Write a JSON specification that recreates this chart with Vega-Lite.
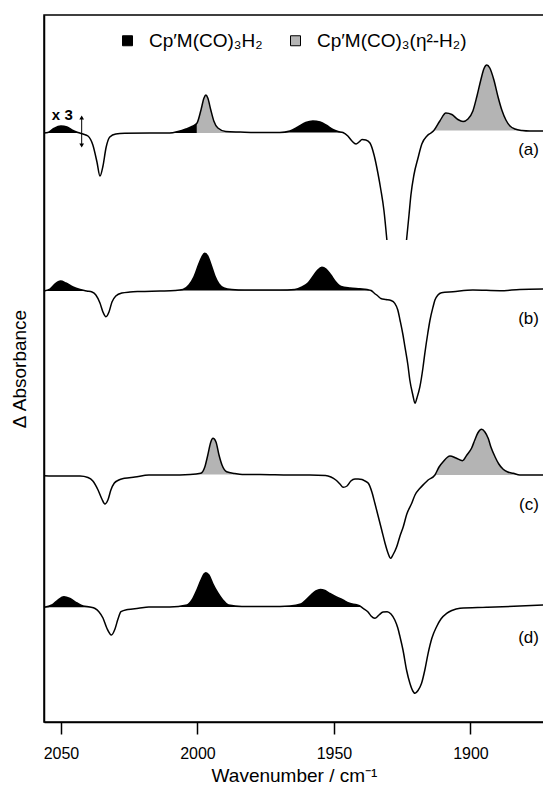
{
  "$schema": "https://vega.github.io/schema/vega-lite/v6.json",
  "width": 500,
  "height": 707,
  "autosize": {"type": "none"},
  "padding": {"left": 44, "top": 15, "right": 0, "bottom": 64},
  "background": "white",
  "config": {
    "font": "Liberation Sans",
    "view": {"stroke": "black", "strokeWidth": 1.5},
    "axis": {"grid": false, "domainColor": "black", "domainWidth": 1.5, "tickColor": "black", "labelColor": "black", "titleColor": "black", "titleFontWeight": "normal"}
  },
  "datasets": {
    "lines": [
      {"part":"a1","wn":2056.2,"A":589},{"part":"a1","wn":2054.8,"A":589.5},{"part":"a1","wn":2052.6,"A":593.5},{"part":"a1","wn":2050.0,"A":596},{"part":"a1","wn":2047.8,"A":595},{"part":"a1","wn":2045.6,"A":591.5},{"part":"a1","wn":2043.8,"A":589.5},{"part":"a1","wn":2041.9,"A":588},{"part":"a1","wn":2040.1,"A":586},{"part":"a1","wn":2038.3,"A":577},{"part":"a1","wn":2036.8,"A":560},{"part":"a1","wn":2035.7,"A":546},{"part":"a1","wn":2034.6,"A":556},{"part":"a1","wn":2033.5,"A":574},{"part":"a1","wn":2032.1,"A":585},{"part":"a1","wn":2029.9,"A":588},{"part":"a1","wn":2026.6,"A":588.7},{"part":"a1","wn":2017.4,"A":589},{"part":"a1","wn":2010.1,"A":589},{"part":"a1","wn":2007.1,"A":590.5},{"part":"a1","wn":2004.2,"A":593},{"part":"a1","wn":2002.0,"A":595.5},{"part":"a1","wn":2000.2,"A":598.7},{"part":"a1","wn":1998.7,"A":612},{"part":"a1","wn":1997.6,"A":624},{"part":"a1","wn":1996.9,"A":627},{"part":"a1","wn":1996.2,"A":624},{"part":"a1","wn":1995.1,"A":612},{"part":"a1","wn":1994.0,"A":601},{"part":"a1","wn":1992.5,"A":594},{"part":"a1","wn":1989.6,"A":590.5},{"part":"a1","wn":1984.4,"A":590},{"part":"a1","wn":1977.1,"A":589.5},{"part":"a1","wn":1969.8,"A":589.5},{"part":"a1","wn":1966.1,"A":591},{"part":"a1","wn":1963.2,"A":595},{"part":"a1","wn":1960.3,"A":599.5},{"part":"a1","wn":1957.7,"A":601},{"part":"a1","wn":1955.1,"A":600},{"part":"a1","wn":1952.6,"A":596.5},{"part":"a1","wn":1950.4,"A":592.5},{"part":"a1","wn":1948.5,"A":590.5},{"part":"a1","wn":1946.7,"A":589.5},{"part":"a1","wn":1944.9,"A":586},{"part":"a1","wn":1943.4,"A":581},{"part":"a1","wn":1941.9,"A":578},{"part":"a1","wn":1940.8,"A":580},{"part":"a1","wn":1939.7,"A":582.5},{"part":"a1","wn":1938.3,"A":582},{"part":"a1","wn":1936.8,"A":579},{"part":"a1","wn":1935.3,"A":567},{"part":"a1","wn":1933.9,"A":549},{"part":"a1","wn":1932.8,"A":532},{"part":"a1","wn":1931.7,"A":512},{"part":"a1","wn":1930.6,"A":482},
      {"part":"a2","wn":1923.4,"A":482},{"part":"a2","wn":1922.5,"A":507},{"part":"a2","wn":1921.8,"A":527},{"part":"a2","wn":1920.7,"A":547},{"part":"a2","wn":1919.2,"A":564},{"part":"a2","wn":1917.8,"A":578},{"part":"a2","wn":1915.9,"A":586},{"part":"a2","wn":1914.5,"A":589},{"part":"a2","wn":1913.4,"A":591.5},{"part":"a2","wn":1911.2,"A":601},{"part":"a2","wn":1909.0,"A":609},{"part":"a2","wn":1906.8,"A":607.5},{"part":"a2","wn":1904.6,"A":602.5},{"part":"a2","wn":1902.7,"A":600.5},{"part":"a2","wn":1900.9,"A":603},{"part":"a2","wn":1899.1,"A":611},{"part":"a2","wn":1897.6,"A":626},{"part":"a2","wn":1896.2,"A":642},{"part":"a2","wn":1895.1,"A":653},{"part":"a2","wn":1894.0,"A":657},{"part":"a2","wn":1892.9,"A":654},{"part":"a2","wn":1891.4,"A":642},{"part":"a2","wn":1889.9,"A":625.3},{"part":"a2","wn":1888.5,"A":612},{"part":"a2","wn":1887.0,"A":602},{"part":"a2","wn":1885.5,"A":596},{"part":"a2","wn":1883.7,"A":593},{"part":"a2","wn":1881.1,"A":591.5},{"part":"a2","wn":1878.2,"A":591},{"part":"a2","wn":1873.1,"A":591},
      {"part":"b","wn":2056.2,"A":431},{"part":"b","wn":2054.0,"A":433},{"part":"b","wn":2052.2,"A":438},{"part":"b","wn":2050.1,"A":441},{"part":"b","wn":2048.2,"A":439},{"part":"b","wn":2045.6,"A":435},{"part":"b","wn":2043.0,"A":432.5},{"part":"b","wn":2040.5,"A":431},{"part":"b","wn":2038.6,"A":430},{"part":"b","wn":2037.2,"A":427},{"part":"b","wn":2035.7,"A":419},{"part":"b","wn":2034.6,"A":410},{"part":"b","wn":2033.5,"A":405.3},{"part":"b","wn":2032.4,"A":410},{"part":"b","wn":2031.3,"A":420},{"part":"b","wn":2029.9,"A":426},{"part":"b","wn":2027.7,"A":429},{"part":"b","wn":2024.7,"A":430},{"part":"b","wn":2021.1,"A":430.5},{"part":"b","wn":2013.7,"A":431},{"part":"b","wn":2008.2,"A":431.5},{"part":"b","wn":2005.3,"A":432.5},{"part":"b","wn":2003.1,"A":437},{"part":"b","wn":2001.3,"A":445},{"part":"b","wn":1999.5,"A":458},{"part":"b","wn":1998.4,"A":465},{"part":"b","wn":1997.3,"A":468.7},{"part":"b","wn":1996.2,"A":466},{"part":"b","wn":1995.1,"A":458},{"part":"b","wn":1993.6,"A":446},{"part":"b","wn":1992.1,"A":438},{"part":"b","wn":1990.3,"A":434},{"part":"b","wn":1987.4,"A":432.5},{"part":"b","wn":1982.6,"A":432},{"part":"b","wn":1977.1,"A":432},{"part":"b","wn":1969.8,"A":432},{"part":"b","wn":1964.3,"A":432.5},{"part":"b","wn":1961.7,"A":435},{"part":"b","wn":1959.5,"A":439},{"part":"b","wn":1957.3,"A":447},{"part":"b","wn":1955.9,"A":452},{"part":"b","wn":1954.4,"A":454.7},{"part":"b","wn":1952.9,"A":453},{"part":"b","wn":1951.1,"A":447},{"part":"b","wn":1949.3,"A":440},{"part":"b","wn":1947.4,"A":435.5},{"part":"b","wn":1944.1,"A":434},{"part":"b","wn":1940.5,"A":433.2},{"part":"b","wn":1937.9,"A":432.5},{"part":"b","wn":1936.4,"A":431.5},{"part":"b","wn":1935.3,"A":429},{"part":"b","wn":1933.9,"A":426},{"part":"b","wn":1932.8,"A":423.5},{"part":"b","wn":1931.0,"A":422.5},{"part":"b","wn":1929.1,"A":421.5},{"part":"b","wn":1927.7,"A":418.7},{"part":"b","wn":1926.6,"A":412},{"part":"b","wn":1925.8,"A":402},{"part":"b","wn":1924.7,"A":387},{"part":"b","wn":1924.0,"A":375.3},{"part":"b","wn":1922.9,"A":357},{"part":"b","wn":1922.2,"A":342},{"part":"b","wn":1921.1,"A":327},{"part":"b","wn":1920.3,"A":318.7},{"part":"b","wn":1919.6,"A":324},{"part":"b","wn":1918.5,"A":335.3},{"part":"b","wn":1917.4,"A":354},{"part":"b","wn":1916.7,"A":368.7},{"part":"b","wn":1915.6,"A":389},{"part":"b","wn":1914.8,"A":402},{"part":"b","wn":1913.7,"A":415},{"part":"b","wn":1913.0,"A":422},{"part":"b","wn":1911.9,"A":427},{"part":"b","wn":1910.6,"A":429.3},{"part":"b","wn":1906.4,"A":430.3},{"part":"b","wn":1899.1,"A":432},{"part":"b","wn":1889.2,"A":431.3},{"part":"b","wn":1881.9,"A":432.5},{"part":"b","wn":1873.1,"A":433},
      {"part":"c","wn":2056.2,"A":246.3},{"part":"c","wn":2050.4,"A":246},{"part":"c","wn":2043.0,"A":246},{"part":"c","wn":2040.1,"A":244.5},{"part":"c","wn":2038.3,"A":241},{"part":"c","wn":2036.4,"A":232},{"part":"c","wn":2035.0,"A":223},{"part":"c","wn":2033.9,"A":218},{"part":"c","wn":2032.8,"A":222},{"part":"c","wn":2031.7,"A":232},{"part":"c","wn":2030.5,"A":238.7},{"part":"c","wn":2028.8,"A":242},{"part":"c","wn":2026.7,"A":243.7},{"part":"c","wn":2022.9,"A":245},{"part":"c","wn":2017.8,"A":247},{"part":"c","wn":2010.1,"A":247},{"part":"c","wn":2002.7,"A":247.5},{"part":"c","wn":1998.8,"A":248.7},{"part":"c","wn":1997.3,"A":255},{"part":"c","wn":1996.2,"A":267},{"part":"c","wn":1995.1,"A":280},{"part":"c","wn":1994.3,"A":283.7},{"part":"c","wn":1993.2,"A":280},{"part":"c","wn":1992.1,"A":267},{"part":"c","wn":1991.0,"A":257},{"part":"c","wn":1989.3,"A":250.3},{"part":"c","wn":1986.3,"A":248.5},{"part":"c","wn":1983.6,"A":247.5},{"part":"c","wn":1977.1,"A":247.5},{"part":"c","wn":1966.1,"A":247},{"part":"c","wn":1958.8,"A":247},{"part":"c","wn":1953.1,"A":246.5},{"part":"c","wn":1951.1,"A":245},{"part":"c","wn":1949.3,"A":242},{"part":"c","wn":1947.8,"A":238},{"part":"c","wn":1946.6,"A":234.7},{"part":"c","wn":1945.2,"A":236},{"part":"c","wn":1943.8,"A":241},{"part":"c","wn":1942.3,"A":243},{"part":"c","wn":1941.1,"A":243},{"part":"c","wn":1939.7,"A":242.5},{"part":"c","wn":1938.6,"A":241},{"part":"c","wn":1937.4,"A":238.7},{"part":"c","wn":1936.1,"A":230},{"part":"c","wn":1935.0,"A":218.7},{"part":"c","wn":1933.9,"A":207},{"part":"c","wn":1932.5,"A":192},{"part":"c","wn":1931.3,"A":179},{"part":"c","wn":1930.2,"A":169},{"part":"c","wn":1929.2,"A":163.7},{"part":"c","wn":1928.4,"A":167},{"part":"c","wn":1927.0,"A":175.3},{"part":"c","wn":1925.8,"A":186},{"part":"c","wn":1924.6,"A":195.3},{"part":"c","wn":1923.3,"A":208},{"part":"c","wn":1921.5,"A":218.7},{"part":"c","wn":1920.3,"A":227},{"part":"c","wn":1918.5,"A":233.7},{"part":"c","wn":1917.0,"A":238},{"part":"c","wn":1915.5,"A":242},{"part":"c","wn":1913.0,"A":247},{"part":"c","wn":1911.5,"A":255},{"part":"c","wn":1910.0,"A":260.3},{"part":"c","wn":1907.5,"A":266},{"part":"c","wn":1905.3,"A":264},{"part":"c","wn":1902.9,"A":261.3},{"part":"c","wn":1901.3,"A":267},{"part":"c","wn":1899.6,"A":273.7},{"part":"c","wn":1898.4,"A":282},{"part":"c","wn":1897.3,"A":289},{"part":"c","wn":1895.9,"A":292.7},{"part":"c","wn":1894.7,"A":290},{"part":"c","wn":1893.5,"A":283.7},{"part":"c","wn":1892.5,"A":275},{"part":"c","wn":1891.0,"A":265.3},{"part":"c","wn":1889.6,"A":258},{"part":"c","wn":1888.0,"A":252.7},{"part":"c","wn":1886.3,"A":250},{"part":"c","wn":1884.3,"A":248.7},{"part":"c","wn":1881.9,"A":247},{"part":"c","wn":1873.1,"A":247},
      {"part":"d","wn":2056.2,"A":114.7},{"part":"d","wn":2053.3,"A":117},{"part":"d","wn":2051.1,"A":122},{"part":"d","wn":2048.9,"A":125.3},{"part":"d","wn":2046.7,"A":123.5},{"part":"d","wn":2044.1,"A":119},{"part":"d","wn":2041.9,"A":116},{"part":"d","wn":2039.4,"A":115},{"part":"d","wn":2037.5,"A":113.5},{"part":"d","wn":2036.1,"A":110.3},{"part":"d","wn":2034.6,"A":104},{"part":"d","wn":2033.2,"A":94},{"part":"d","wn":2031.5,"A":87},{"part":"d","wn":2030.2,"A":93},{"part":"d","wn":2029.1,"A":103},{"part":"d","wn":2028.0,"A":110.3},{"part":"d","wn":2025.5,"A":112.5},{"part":"d","wn":2021.6,"A":113.7},{"part":"d","wn":2017.8,"A":115},{"part":"d","wn":2010.1,"A":115},{"part":"d","wn":2003.8,"A":117},{"part":"d","wn":2002.0,"A":122},{"part":"d","wn":2000.2,"A":132},{"part":"d","wn":1998.7,"A":142},{"part":"d","wn":1997.6,"A":148},{"part":"d","wn":1996.9,"A":149.3},{"part":"d","wn":1995.8,"A":147},{"part":"d","wn":1994.3,"A":138},{"part":"d","wn":1992.5,"A":129},{"part":"d","wn":1990.7,"A":122},{"part":"d","wn":1988.6,"A":117},{"part":"d","wn":1983.7,"A":115.5},{"part":"d","wn":1973.4,"A":115.5},{"part":"d","wn":1966.1,"A":116},{"part":"d","wn":1962.1,"A":118},{"part":"d","wn":1960.3,"A":122},{"part":"d","wn":1958.4,"A":127},{"part":"d","wn":1956.6,"A":131},{"part":"d","wn":1955.0,"A":132.5},{"part":"d","wn":1953.3,"A":131.5},{"part":"d","wn":1951.5,"A":128.5},{"part":"d","wn":1949.3,"A":125.3},{"part":"d","wn":1946.7,"A":122},{"part":"d","wn":1944.3,"A":118.7},{"part":"d","wn":1941.7,"A":117.2},{"part":"d","wn":1940.5,"A":116},{"part":"d","wn":1939.3,"A":113.7},{"part":"d","wn":1937.5,"A":110},{"part":"d","wn":1936.4,"A":106},{"part":"d","wn":1935.0,"A":103.7},{"part":"d","wn":1933.5,"A":107},{"part":"d","wn":1932.0,"A":110},{"part":"d","wn":1930.5,"A":110.3},{"part":"d","wn":1929.1,"A":108},{"part":"d","wn":1927.7,"A":102},{"part":"d","wn":1926.6,"A":94},{"part":"d","wn":1925.8,"A":85.3},{"part":"d","wn":1924.7,"A":72},{"part":"d","wn":1923.4,"A":52},{"part":"d","wn":1922.2,"A":39},{"part":"d","wn":1921.1,"A":31},{"part":"d","wn":1920.3,"A":28.7},{"part":"d","wn":1919.2,"A":31.5},{"part":"d","wn":1917.9,"A":38.7},{"part":"d","wn":1916.7,"A":52},{"part":"d","wn":1915.5,"A":68.7},{"part":"d","wn":1914.1,"A":84},{"part":"d","wn":1912.4,"A":95.3},{"part":"d","wn":1910.8,"A":103},{"part":"d","wn":1908.7,"A":108.7},{"part":"d","wn":1906.8,"A":111.5},{"part":"d","wn":1903.8,"A":113.7},{"part":"d","wn":1894.1,"A":114.7},{"part":"d","wn":1881.9,"A":116},{"part":"d","wn":1873.1,"A":117}
    ],
    "fills": [
      {"seg":"a-b1","species":"Cp′M(CO)₃H₂","wn":2056.2,"A":589,"base":589},{"seg":"a-b1","species":"Cp′M(CO)₃H₂","wn":2054.8,"A":589.5,"base":589},{"seg":"a-b1","species":"Cp′M(CO)₃H₂","wn":2052.6,"A":593.5,"base":589},{"seg":"a-b1","species":"Cp′M(CO)₃H₂","wn":2050.0,"A":596,"base":589},{"seg":"a-b1","species":"Cp′M(CO)₃H₂","wn":2047.8,"A":595,"base":589},{"seg":"a-b1","species":"Cp′M(CO)₃H₂","wn":2045.6,"A":591.5,"base":589},{"seg":"a-b1","species":"Cp′M(CO)₃H₂","wn":2043.8,"A":589.5,"base":589},{"seg":"a-b1","species":"Cp′M(CO)₃H₂","wn":2043.0,"A":589,"base":589},
      {"seg":"a-b2","species":"Cp′M(CO)₃H₂","wn":2010.1,"A":589,"base":589},{"seg":"a-b2","species":"Cp′M(CO)₃H₂","wn":2007.1,"A":590.5,"base":589},{"seg":"a-b2","species":"Cp′M(CO)₃H₂","wn":2004.2,"A":593,"base":589},{"seg":"a-b2","species":"Cp′M(CO)₃H₂","wn":2002.0,"A":595.5,"base":589},{"seg":"a-b2","species":"Cp′M(CO)₃H₂","wn":2000.2,"A":598.7,"base":589},
      {"seg":"a-g1","species":"Cp′M(CO)₃(η²-H₂)","wn":2000.2,"A":598.7,"base":589},{"seg":"a-g1","species":"Cp′M(CO)₃(η²-H₂)","wn":1998.7,"A":612,"base":589},{"seg":"a-g1","species":"Cp′M(CO)₃(η²-H₂)","wn":1997.6,"A":624,"base":589},{"seg":"a-g1","species":"Cp′M(CO)₃(η²-H₂)","wn":1996.9,"A":627,"base":589},{"seg":"a-g1","species":"Cp′M(CO)₃(η²-H₂)","wn":1996.2,"A":624,"base":589},{"seg":"a-g1","species":"Cp′M(CO)₃(η²-H₂)","wn":1995.1,"A":612,"base":589},{"seg":"a-g1","species":"Cp′M(CO)₃(η²-H₂)","wn":1994.0,"A":601,"base":589},{"seg":"a-g1","species":"Cp′M(CO)₃(η²-H₂)","wn":1992.5,"A":594,"base":589},{"seg":"a-g1","species":"Cp′M(CO)₃(η²-H₂)","wn":1989.6,"A":590.5,"base":589},{"seg":"a-g1","species":"Cp′M(CO)₃(η²-H₂)","wn":1984.4,"A":590,"base":589},
      {"seg":"a-b3","species":"Cp′M(CO)₃H₂","wn":1969.8,"A":589.5,"base":589.5},{"seg":"a-b3","species":"Cp′M(CO)₃H₂","wn":1966.1,"A":591,"base":589.5},{"seg":"a-b3","species":"Cp′M(CO)₃H₂","wn":1963.2,"A":595,"base":589.5},{"seg":"a-b3","species":"Cp′M(CO)₃H₂","wn":1960.3,"A":599.5,"base":589.5},{"seg":"a-b3","species":"Cp′M(CO)₃H₂","wn":1957.7,"A":601,"base":589.5},{"seg":"a-b3","species":"Cp′M(CO)₃H₂","wn":1955.1,"A":600,"base":589.5},{"seg":"a-b3","species":"Cp′M(CO)₃H₂","wn":1952.6,"A":596.5,"base":589.5},{"seg":"a-b3","species":"Cp′M(CO)₃H₂","wn":1950.4,"A":592.5,"base":589.5},{"seg":"a-b3","species":"Cp′M(CO)₃H₂","wn":1948.5,"A":590.5,"base":589.5},{"seg":"a-b3","species":"Cp′M(CO)₃H₂","wn":1946.7,"A":589.5,"base":589.5},
      {"seg":"a-g2","species":"Cp′M(CO)₃(η²-H₂)","wn":1913.4,"A":591.5,"base":591.5},{"seg":"a-g2","species":"Cp′M(CO)₃(η²-H₂)","wn":1911.2,"A":601,"base":591.5},{"seg":"a-g2","species":"Cp′M(CO)₃(η²-H₂)","wn":1909.0,"A":609,"base":591.5},{"seg":"a-g2","species":"Cp′M(CO)₃(η²-H₂)","wn":1906.8,"A":607.5,"base":591.5},{"seg":"a-g2","species":"Cp′M(CO)₃(η²-H₂)","wn":1904.6,"A":602.5,"base":591.5},{"seg":"a-g2","species":"Cp′M(CO)₃(η²-H₂)","wn":1902.7,"A":600.5,"base":591.5},{"seg":"a-g2","species":"Cp′M(CO)₃(η²-H₂)","wn":1900.9,"A":603,"base":591.5},{"seg":"a-g2","species":"Cp′M(CO)₃(η²-H₂)","wn":1899.1,"A":611,"base":591.5},{"seg":"a-g2","species":"Cp′M(CO)₃(η²-H₂)","wn":1897.6,"A":626,"base":591.5},{"seg":"a-g2","species":"Cp′M(CO)₃(η²-H₂)","wn":1896.2,"A":642,"base":591.5},{"seg":"a-g2","species":"Cp′M(CO)₃(η²-H₂)","wn":1895.1,"A":653,"base":591.5},{"seg":"a-g2","species":"Cp′M(CO)₃(η²-H₂)","wn":1894.0,"A":657,"base":591.5},{"seg":"a-g2","species":"Cp′M(CO)₃(η²-H₂)","wn":1892.9,"A":654,"base":591.5},{"seg":"a-g2","species":"Cp′M(CO)₃(η²-H₂)","wn":1891.4,"A":642,"base":591.5},{"seg":"a-g2","species":"Cp′M(CO)₃(η²-H₂)","wn":1889.9,"A":625.3,"base":591.5},{"seg":"a-g2","species":"Cp′M(CO)₃(η²-H₂)","wn":1888.5,"A":612,"base":591.5},{"seg":"a-g2","species":"Cp′M(CO)₃(η²-H₂)","wn":1887.0,"A":602,"base":591.5},{"seg":"a-g2","species":"Cp′M(CO)₃(η²-H₂)","wn":1885.5,"A":596,"base":591.5},{"seg":"a-g2","species":"Cp′M(CO)₃(η²-H₂)","wn":1883.7,"A":593,"base":591.5},{"seg":"a-g2","species":"Cp′M(CO)₃(η²-H₂)","wn":1881.1,"A":591.5,"base":591.5},
      {"seg":"b-b1","species":"Cp′M(CO)₃H₂","wn":2056.2,"A":431,"base":431},{"seg":"b-b1","species":"Cp′M(CO)₃H₂","wn":2054.0,"A":433,"base":431},{"seg":"b-b1","species":"Cp′M(CO)₃H₂","wn":2052.2,"A":438,"base":431},{"seg":"b-b1","species":"Cp′M(CO)₃H₂","wn":2050.1,"A":441,"base":431},{"seg":"b-b1","species":"Cp′M(CO)₃H₂","wn":2048.2,"A":439,"base":431},{"seg":"b-b1","species":"Cp′M(CO)₃H₂","wn":2045.6,"A":435,"base":431},{"seg":"b-b1","species":"Cp′M(CO)₃H₂","wn":2043.0,"A":432.5,"base":431},{"seg":"b-b1","species":"Cp′M(CO)₃H₂","wn":2040.5,"A":431,"base":431},
      {"seg":"b-b2","species":"Cp′M(CO)₃H₂","wn":2008.2,"A":431.5,"base":431.5},{"seg":"b-b2","species":"Cp′M(CO)₃H₂","wn":2005.3,"A":432.5,"base":431.5},{"seg":"b-b2","species":"Cp′M(CO)₃H₂","wn":2003.1,"A":437,"base":431.5},{"seg":"b-b2","species":"Cp′M(CO)₃H₂","wn":2001.3,"A":445,"base":431.5},{"seg":"b-b2","species":"Cp′M(CO)₃H₂","wn":1999.5,"A":458,"base":431.5},{"seg":"b-b2","species":"Cp′M(CO)₃H₂","wn":1998.4,"A":465,"base":431.5},{"seg":"b-b2","species":"Cp′M(CO)₃H₂","wn":1997.3,"A":468.7,"base":431.5},{"seg":"b-b2","species":"Cp′M(CO)₃H₂","wn":1996.2,"A":466,"base":431.5},{"seg":"b-b2","species":"Cp′M(CO)₃H₂","wn":1995.1,"A":458,"base":431.5},{"seg":"b-b2","species":"Cp′M(CO)₃H₂","wn":1993.6,"A":446,"base":431.5},{"seg":"b-b2","species":"Cp′M(CO)₃H₂","wn":1992.1,"A":438,"base":431.5},{"seg":"b-b2","species":"Cp′M(CO)₃H₂","wn":1990.3,"A":434,"base":431.5},{"seg":"b-b2","species":"Cp′M(CO)₃H₂","wn":1987.4,"A":432.5,"base":431.5},{"seg":"b-b2","species":"Cp′M(CO)₃H₂","wn":1982.6,"A":432,"base":431.5},{"seg":"b-b2","species":"Cp′M(CO)₃H₂","wn":1977.1,"A":432,"base":431.5},{"seg":"b-b2","species":"Cp′M(CO)₃H₂","wn":1969.8,"A":432,"base":431.5},{"seg":"b-b2","species":"Cp′M(CO)₃H₂","wn":1964.3,"A":432.5,"base":431.5},{"seg":"b-b2","species":"Cp′M(CO)₃H₂","wn":1961.7,"A":435,"base":431.5},{"seg":"b-b2","species":"Cp′M(CO)₃H₂","wn":1959.5,"A":439,"base":431.5},{"seg":"b-b2","species":"Cp′M(CO)₃H₂","wn":1957.3,"A":447,"base":431.5},{"seg":"b-b2","species":"Cp′M(CO)₃H₂","wn":1955.9,"A":452,"base":431.5},{"seg":"b-b2","species":"Cp′M(CO)₃H₂","wn":1954.4,"A":454.7,"base":431.5},{"seg":"b-b2","species":"Cp′M(CO)₃H₂","wn":1952.9,"A":453,"base":431.5},{"seg":"b-b2","species":"Cp′M(CO)₃H₂","wn":1951.1,"A":447,"base":431.5},{"seg":"b-b2","species":"Cp′M(CO)₃H₂","wn":1949.3,"A":440,"base":431.5},{"seg":"b-b2","species":"Cp′M(CO)₃H₂","wn":1947.4,"A":435.5,"base":431.5},{"seg":"b-b2","species":"Cp′M(CO)₃H₂","wn":1944.1,"A":434,"base":431.5},{"seg":"b-b2","species":"Cp′M(CO)₃H₂","wn":1940.5,"A":433.2,"base":431.5},{"seg":"b-b2","species":"Cp′M(CO)₃H₂","wn":1937.9,"A":432.5,"base":431.5},{"seg":"b-b2","species":"Cp′M(CO)₃H₂","wn":1936.4,"A":431.5,"base":431.5},
      {"seg":"c-g1","species":"Cp′M(CO)₃(η²-H₂)","wn":2002.7,"A":247.5,"base":247.5},{"seg":"c-g1","species":"Cp′M(CO)₃(η²-H₂)","wn":1998.8,"A":248.7,"base":247.5},{"seg":"c-g1","species":"Cp′M(CO)₃(η²-H₂)","wn":1997.3,"A":255,"base":247.5},{"seg":"c-g1","species":"Cp′M(CO)₃(η²-H₂)","wn":1996.2,"A":267,"base":247.5},{"seg":"c-g1","species":"Cp′M(CO)₃(η²-H₂)","wn":1995.1,"A":280,"base":247.5},{"seg":"c-g1","species":"Cp′M(CO)₃(η²-H₂)","wn":1994.3,"A":283.7,"base":247.5},{"seg":"c-g1","species":"Cp′M(CO)₃(η²-H₂)","wn":1993.2,"A":280,"base":247.5},{"seg":"c-g1","species":"Cp′M(CO)₃(η²-H₂)","wn":1992.1,"A":267,"base":247.5},{"seg":"c-g1","species":"Cp′M(CO)₃(η²-H₂)","wn":1991.0,"A":257,"base":247.5},{"seg":"c-g1","species":"Cp′M(CO)₃(η²-H₂)","wn":1989.3,"A":250.3,"base":247.5},{"seg":"c-g1","species":"Cp′M(CO)₃(η²-H₂)","wn":1986.3,"A":248.5,"base":247.5},{"seg":"c-g1","species":"Cp′M(CO)₃(η²-H₂)","wn":1983.6,"A":247.5,"base":247.5},
      {"seg":"c-g2","species":"Cp′M(CO)₃(η²-H₂)","wn":1913.0,"A":247,"base":247},{"seg":"c-g2","species":"Cp′M(CO)₃(η²-H₂)","wn":1911.5,"A":255,"base":247},{"seg":"c-g2","species":"Cp′M(CO)₃(η²-H₂)","wn":1910.0,"A":260.3,"base":247},{"seg":"c-g2","species":"Cp′M(CO)₃(η²-H₂)","wn":1907.5,"A":266,"base":247},{"seg":"c-g2","species":"Cp′M(CO)₃(η²-H₂)","wn":1905.3,"A":264,"base":247},{"seg":"c-g2","species":"Cp′M(CO)₃(η²-H₂)","wn":1902.9,"A":261.3,"base":247},{"seg":"c-g2","species":"Cp′M(CO)₃(η²-H₂)","wn":1901.3,"A":267,"base":247},{"seg":"c-g2","species":"Cp′M(CO)₃(η²-H₂)","wn":1899.6,"A":273.7,"base":247},{"seg":"c-g2","species":"Cp′M(CO)₃(η²-H₂)","wn":1898.4,"A":282,"base":247},{"seg":"c-g2","species":"Cp′M(CO)₃(η²-H₂)","wn":1897.3,"A":289,"base":247},{"seg":"c-g2","species":"Cp′M(CO)₃(η²-H₂)","wn":1895.9,"A":292.7,"base":247},{"seg":"c-g2","species":"Cp′M(CO)₃(η²-H₂)","wn":1894.7,"A":290,"base":247},{"seg":"c-g2","species":"Cp′M(CO)₃(η²-H₂)","wn":1893.5,"A":283.7,"base":247},{"seg":"c-g2","species":"Cp′M(CO)₃(η²-H₂)","wn":1892.5,"A":275,"base":247},{"seg":"c-g2","species":"Cp′M(CO)₃(η²-H₂)","wn":1891.0,"A":265.3,"base":247},{"seg":"c-g2","species":"Cp′M(CO)₃(η²-H₂)","wn":1889.6,"A":258,"base":247},{"seg":"c-g2","species":"Cp′M(CO)₃(η²-H₂)","wn":1888.0,"A":252.7,"base":247},{"seg":"c-g2","species":"Cp′M(CO)₃(η²-H₂)","wn":1886.3,"A":250,"base":247},{"seg":"c-g2","species":"Cp′M(CO)₃(η²-H₂)","wn":1884.3,"A":248.7,"base":247},{"seg":"c-g2","species":"Cp′M(CO)₃(η²-H₂)","wn":1881.9,"A":247,"base":247},
      {"seg":"d-b1","species":"Cp′M(CO)₃H₂","wn":2056.2,"A":114.7,"base":114.7},{"seg":"d-b1","species":"Cp′M(CO)₃H₂","wn":2053.3,"A":117,"base":114.7},{"seg":"d-b1","species":"Cp′M(CO)₃H₂","wn":2051.1,"A":122,"base":114.7},{"seg":"d-b1","species":"Cp′M(CO)₃H₂","wn":2048.9,"A":125.3,"base":114.7},{"seg":"d-b1","species":"Cp′M(CO)₃H₂","wn":2046.7,"A":123.5,"base":114.7},{"seg":"d-b1","species":"Cp′M(CO)₃H₂","wn":2044.1,"A":119,"base":114.7},{"seg":"d-b1","species":"Cp′M(CO)₃H₂","wn":2041.9,"A":116,"base":114.7},{"seg":"d-b1","species":"Cp′M(CO)₃H₂","wn":2039.4,"A":115,"base":114.7},
      {"seg":"d-b2","species":"Cp′M(CO)₃H₂","wn":2010.1,"A":115,"base":115},{"seg":"d-b2","species":"Cp′M(CO)₃H₂","wn":2003.8,"A":117,"base":115},{"seg":"d-b2","species":"Cp′M(CO)₃H₂","wn":2002.0,"A":122,"base":115},{"seg":"d-b2","species":"Cp′M(CO)₃H₂","wn":2000.2,"A":132,"base":115},{"seg":"d-b2","species":"Cp′M(CO)₃H₂","wn":1998.7,"A":142,"base":115},{"seg":"d-b2","species":"Cp′M(CO)₃H₂","wn":1997.6,"A":148,"base":115},{"seg":"d-b2","species":"Cp′M(CO)₃H₂","wn":1996.9,"A":149.3,"base":115},{"seg":"d-b2","species":"Cp′M(CO)₃H₂","wn":1995.8,"A":147,"base":115},{"seg":"d-b2","species":"Cp′M(CO)₃H₂","wn":1994.3,"A":138,"base":115},{"seg":"d-b2","species":"Cp′M(CO)₃H₂","wn":1992.5,"A":129,"base":115},{"seg":"d-b2","species":"Cp′M(CO)₃H₂","wn":1990.7,"A":122,"base":115},{"seg":"d-b2","species":"Cp′M(CO)₃H₂","wn":1988.6,"A":117,"base":115},{"seg":"d-b2","species":"Cp′M(CO)₃H₂","wn":1983.7,"A":115.5,"base":115},{"seg":"d-b2","species":"Cp′M(CO)₃H₂","wn":1973.4,"A":115.5,"base":115},{"seg":"d-b2","species":"Cp′M(CO)₃H₂","wn":1966.1,"A":116,"base":115},{"seg":"d-b2","species":"Cp′M(CO)₃H₂","wn":1962.1,"A":118,"base":115},{"seg":"d-b2","species":"Cp′M(CO)₃H₂","wn":1960.3,"A":122,"base":115},{"seg":"d-b2","species":"Cp′M(CO)₃H₂","wn":1958.4,"A":127,"base":115},{"seg":"d-b2","species":"Cp′M(CO)₃H₂","wn":1956.6,"A":131,"base":115},{"seg":"d-b2","species":"Cp′M(CO)₃H₂","wn":1955.0,"A":132.5,"base":115},{"seg":"d-b2","species":"Cp′M(CO)₃H₂","wn":1953.3,"A":131.5,"base":115},{"seg":"d-b2","species":"Cp′M(CO)₃H₂","wn":1951.5,"A":128.5,"base":115},{"seg":"d-b2","species":"Cp′M(CO)₃H₂","wn":1949.3,"A":125.3,"base":115},{"seg":"d-b2","species":"Cp′M(CO)₃H₂","wn":1946.7,"A":122,"base":115},{"seg":"d-b2","species":"Cp′M(CO)₃H₂","wn":1944.3,"A":118.7,"base":115},{"seg":"d-b2","species":"Cp′M(CO)₃H₂","wn":1941.7,"A":117.2,"base":115},{"seg":"d-b2","species":"Cp′M(CO)₃H₂","wn":1940.5,"A":116,"base":115},{"seg":"d-b2","species":"Cp′M(CO)₃H₂","wn":1939.8,"A":115,"base":115}
    ],
    "labels": [
      {"wn":1874.9,"A":572,"text":"(a)"},{"wn":1874.9,"A":403,"text":"(b)"},{"wn":1874.9,"A":217,"text":"(c)"},{"wn":1874.9,"A":84,"text":"(d)"}
    ],
    "scale3": [{"wn":2049.5,"A":607,"text":"x 3"}],
    "arrow": [{"wn":2042.4,"A":576.5,"A2":604.5}],
    "heads": [{"wn":2042.4,"A":604.5,"head":"up"},{"wn":2042.4,"A":576.5,"head":"down"}]
  },
  "layer": [
    {
      "data": {"name": "fills"},
      "mark": {"type": "area", "interpolate": "monotone", "opacity": 1},
      "encoding": {
        "x": {"field": "wn", "type": "quantitative",
              "scale": {"domain": [2056.2, 1873.05], "nice": false, "zero": false},
              "axis": {"orient": "bottom", "values": [2050, 2000, 1950, 1900], "format": "d", "tickSize": 12, "tickWidth": 1.5, "labelFontSize": 16, "labelPadding": 11, "title": "Wavenumber / cm⁻¹", "titleFontSize": 19, "titlePadding": 5}},
        "y": {"field": "A", "type": "quantitative",
              "scale": {"domain": [0, 707], "nice": false, "zero": false},
              "axis": {"orient": "left", "ticks": false, "labels": false, "title": "Δ Absorbance", "titleFontSize": 19, "titlePadding": 15}},
        "y2": {"field": "base"},
        "detail": {"field": "seg", "type": "nominal"},
        "color": {"field": "species", "type": "nominal",
                  "scale": {"domain": ["Cp′M(CO)₃H₂", "Cp′M(CO)₃(η²-H₂)"], "range": ["#000000", "#b4b4b4"]},
                  "legend": {"orient": "none", "legendX": 74, "legendY": 16, "direction": "horizontal", "title": null, "symbolType": "square", "symbolSize": 100, "symbolStrokeColor": "black", "symbolStrokeWidth": 1, "symbolOpacity": 1, "labelFontSize": 19, "labelColor": "black", "labelOffset": 12, "columnPadding": 23, "padding": 0, "labelLimit": 300}}
      }
    },
    {
      "data": {"name": "lines"},
      "mark": {"type": "line", "interpolate": "monotone", "color": "black", "strokeWidth": 1.5},
      "encoding": {
        "x": {"field": "wn", "type": "quantitative"},
        "y": {"field": "A", "type": "quantitative"},
        "detail": {"field": "part", "type": "nominal"}
      }
    },
    {
      "data": {"name": "labels"},
      "mark": {"type": "text", "align": "right", "baseline": "middle", "fontSize": 17, "color": "black"},
      "encoding": {
        "x": {"field": "wn", "type": "quantitative"},
        "y": {"field": "A", "type": "quantitative"},
        "text": {"field": "text"}
      }
    },
    {
      "data": {"name": "scale3"},
      "mark": {"type": "text", "align": "center", "baseline": "middle", "fontSize": 15, "fontWeight": "bold", "color": "black"},
      "encoding": {
        "x": {"field": "wn", "type": "quantitative"},
        "y": {"field": "A", "type": "quantitative"},
        "text": {"field": "text"}
      }
    },
    {
      "data": {"name": "arrow"},
      "mark": {"type": "rule", "color": "black", "strokeWidth": 1},
      "encoding": {
        "x": {"field": "wn", "type": "quantitative"},
        "y": {"field": "A", "type": "quantitative"},
        "y2": {"field": "A2"}
      }
    },
    {
      "data": {"name": "heads"},
      "mark": {"type": "point", "filled": true, "color": "black", "size": 22, "opacity": 1},
      "encoding": {
        "x": {"field": "wn", "type": "quantitative"},
        "y": {"field": "A", "type": "quantitative"},
        "shape": {"field": "head", "type": "nominal", "scale": {"domain": ["up", "down"], "range": ["triangle-up", "triangle-down"]}, "legend": null}
      }
    }
  ]
}
